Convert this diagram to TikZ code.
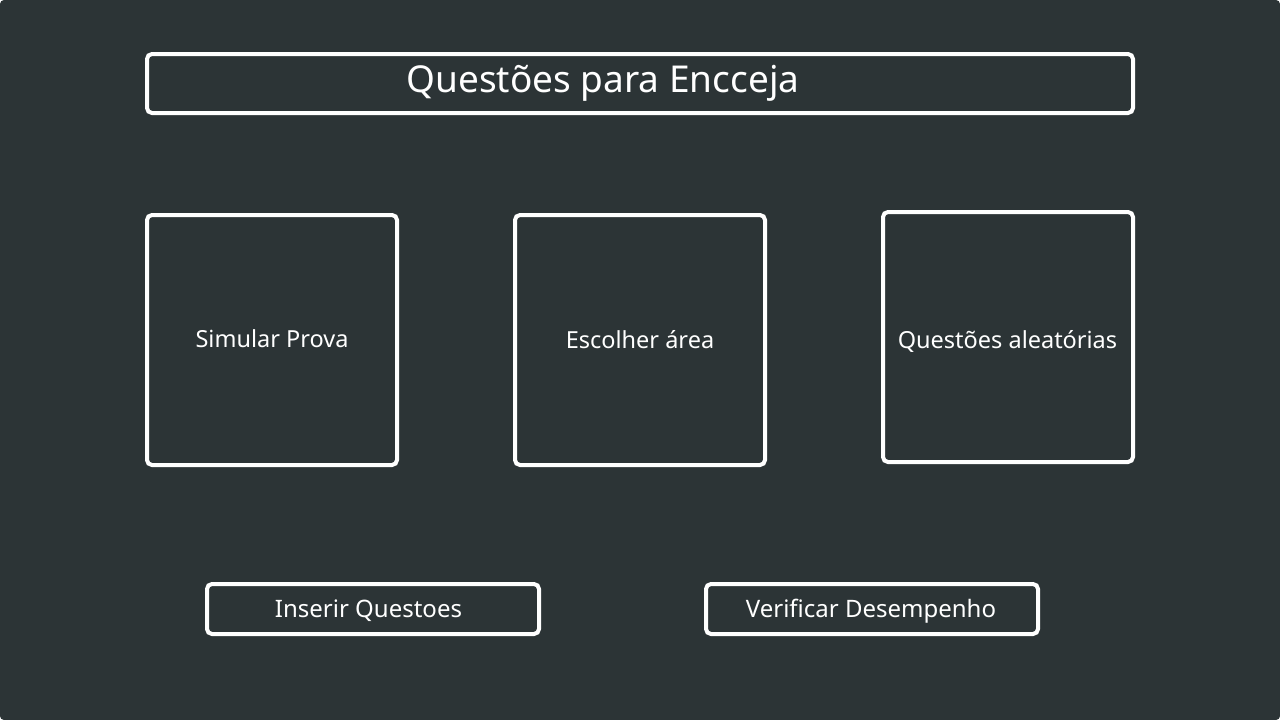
\documentclass[tikz,border=0pt]{standalone}
\usepackage{fontspec}
\setmainfont{Noto Sans}
\definecolor{bg}{HTML}{2C3436}
\tikzset{
  card/.style={draw=white, line width=4pt, rounded corners=5pt, fill=bg, inner sep=0pt},
  lbl/.style={text=white, inner sep=0pt, anchor=base, font=\fontsize{23.5}{28}\selectfont}
}
\begin{document}
\begin{tikzpicture}[x=1pt,y=-1pt]
\useasboundingbox (0,0) rectangle (1280,720);
\fill[white] (0,0) rectangle (1280,720);
\fill[bg, rounded corners=4pt] (0,0) rectangle (1280,720);
\node[card, minimum width=986pt, minimum height=59pt] (title) at (640,83.5) {};
\node[lbl, font=\fontsize{37}{43}\selectfont] (titletext) at (603,92) {Questões para Encceja};
\node[card, minimum width=250pt, minimum height=250pt] (sim) at (272,340) {};
\node[lbl] (simtext) at (272,347.5) {Simular Prova};
\node[card, minimum width=250pt, minimum height=250pt] (area) at (640,340) {};
\node[lbl] (areatext) at (640,348) {Escolher área};
\node[card, minimum width=250pt, minimum height=250pt] (alea) at (1008,337) {};
\node[lbl] (aleatext) at (1007.5,348) {Questões aleatórias};
\node[card, minimum width=332pt, minimum height=50pt] (ins) at (373,609) {};
\node[lbl, font=\fontsize{24}{28}\selectfont] (instext) at (368.5,617) {Inserir Questoes};
\node[card, minimum width=332pt, minimum height=50pt] (ver) at (872,609) {};
\node[lbl, font=\fontsize{24}{28}\selectfont] (vertext) at (871,617) {Verificar Desempenho};
\end{tikzpicture}
\end{document}
